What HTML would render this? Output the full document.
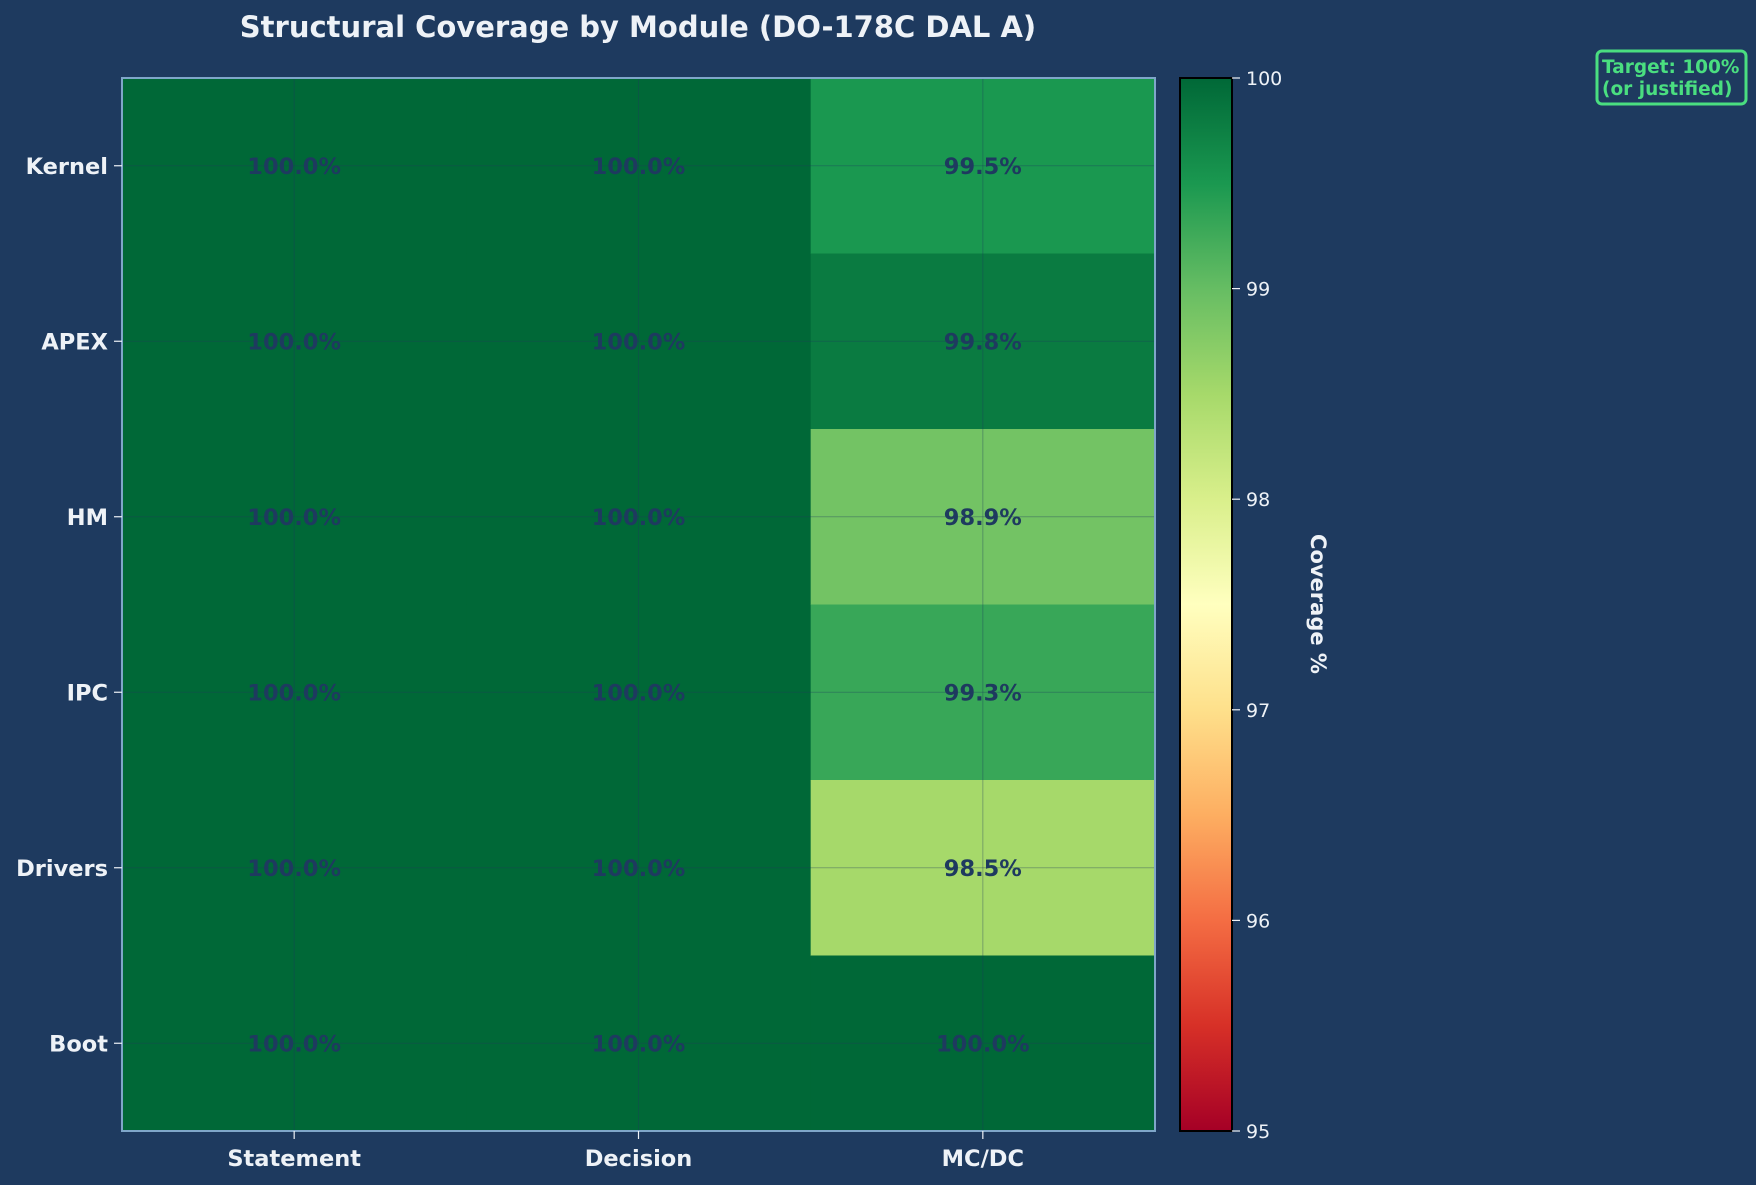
<!DOCTYPE html>
<html><head><meta charset="utf-8"><style>
html,body{margin:0;padding:0;background:#1e3a5f;}
svg{display:block;font-family:"DejaVu Sans","Liberation Sans",sans-serif;}
</style></head><body>
<svg id="chart" width="1756" height="1185" viewBox="0 0 1756 1185">
<defs>
<linearGradient id="cbgrad" x1="0" y1="1" x2="0" y2="0">
<stop offset="0" stop-color="#a50026"/><stop offset="0.1" stop-color="#d73027"/><stop offset="0.2" stop-color="#f46d43"/><stop offset="0.3" stop-color="#fdae61"/><stop offset="0.4" stop-color="#fee08b"/><stop offset="0.5" stop-color="#ffffbf"/><stop offset="0.6" stop-color="#d9ef8b"/><stop offset="0.7" stop-color="#a6d96a"/><stop offset="0.8" stop-color="#66bd63"/><stop offset="0.9" stop-color="#1a9850"/><stop offset="1" stop-color="#006837"/>
</linearGradient>
</defs>
<rect width="1756" height="1185" fill="#1e3a5f"/>
<text x="638" y="37" text-anchor="middle" font-size="29" font-weight="bold" fill="#eef2f7">Structural Coverage by Module (DO-178C DAL A)</text>
<g id="cells"></g>
<g id="grid"></g>
<g id="labels"></g>
<rect x="122" y="78" width="1033" height="1053" fill="none" stroke="#7fa6c9" stroke-width="2"/>
<g id="axes"></g>
<rect x="1180" y="78" width="52" height="1053" fill="url(#cbgrad)" stroke="#000" stroke-width="2"/>
<g id="cbticks"></g>
<text transform="translate(1311,604) rotate(90)" text-anchor="middle" font-size="21" font-weight="bold" fill="#eef2f7">Coverage %</text>
<g>
<rect x="1597" y="51" width="149" height="53" rx="5" fill="#1e3a5f" stroke="#4ade80" stroke-width="3"/>
<text x="1602" y="73" font-size="18.5" font-weight="bold" fill="#4ade80">Target: 100%</text>
<text x="1602" y="95" font-size="18.5" font-weight="bold" fill="#4ade80">(or justified)</text>
</g>
</svg>
<script>
const modules = ["Kernel","APEX","HM","IPC","Drivers","Boot"];
const metrics = ["Statement","Decision","MC/DC"];
const statementCov = [100,100,100,100,100,100];
const decisionCov = [100,100,100,100,100,100];
const mcdcCov = [99.5,99.8,98.9,99.3,98.5,100];
const cbTicks = [95,96,97,98,99,100];
const vmin = 95, vmax = 100;

const NS = "http://www.w3.org/2000/svg";
const L = 122, T = 78, W = 1033, H = 1053;
const colW = W / metrics.length, rowH = H / modules.length;
const xc = i => L + colW * (i + 0.5);
const yc = j => T + rowH * (j + 0.5);
const cbY = v => T + H - (v - vmin) / (vmax - vmin) * H;
const stops = ["#a50026","#d73027","#f46d43","#fdae61","#fee08b","#ffffbf","#d9ef8b","#a6d96a","#66bd63","#1a9850","#006837"];
function hex(h){return [1,3,5].map(i=>parseInt(h.substr(i,2),16));}
function cmap(v){
  let t = Math.max(0, Math.min(1, (v - vmin) / (vmax - vmin))) * 10;
  let i = Math.min(9, Math.floor(t)), f = t - i;
  const a = hex(stops[i]), b = hex(stops[i+1]);
  return "rgb(" + a.map((c,k)=>Math.round(c + (b[k]-c)*f)).join(",") + ")";
}
function mk(tag, attrs, parent){
  const e = document.createElementNS(NS, tag);
  for (const k in attrs) e.setAttribute(k, attrs[k]);
  parent.appendChild(e); return e;
}
const series = [statementCov, decisionCov, mcdcCov];
const cells = document.getElementById("cells");
const labels = document.getElementById("labels");
series.forEach((vals, i) => {
  vals.forEach((v, j) => {
    const r = mk("rect", {x: L + colW*i, y: T + rowH*j, width: colW + 0.5, height: rowH + 0.5, fill: cmap(v)}, cells);
    
    
    const t = mk("text", {x: xc(i), y: yc(j) + 8, "text-anchor": "middle", "font-size": 22.5, "font-weight": "bold", fill: "#1e3a5f"}, labels);
    t.textContent = v.toFixed(1) + "%";
    
    
  });
});
const grid = document.getElementById("grid");
metrics.forEach((m, i) => {
  const l = mk("line", {x1: xc(i), x2: xc(i), y1: T, y2: T + H, stroke: "rgba(30,58,95,0.35)", "stroke-width": 1}, grid);
  
  
});
modules.forEach((m, j) => {
  const l = mk("line", {x1: L, x2: L + W, y1: yc(j), y2: yc(j), stroke: "rgba(30,58,95,0.35)", "stroke-width": 1}, grid);
  
  
});
const axes = document.getElementById("axes");
modules.forEach((m, j) => {
  mk("line", {x1: L - 8, x2: L, y1: yc(j), y2: yc(j), stroke: "#eef2f7", "stroke-width": 1.2}, axes);
  const t = mk("text", {x: L - 14, y: yc(j) + 8, "text-anchor": "end", "font-size": 22.5, "font-weight": "bold", fill: "#eef2f7"}, axes);
  t.textContent = m;
  
  
});
metrics.forEach((m, i) => {
  mk("line", {x1: xc(i), x2: xc(i), y1: T + H, y2: T + H + 8, stroke: "#eef2f7", "stroke-width": 1.2}, axes);
  const t = mk("text", {x: xc(i), y: T + H + 35, "text-anchor": "middle", "font-size": 22.5, "font-weight": "bold", fill: "#eef2f7"}, axes);
  t.textContent = m;
  
  
});
const cbt = document.getElementById("cbticks");
cbTicks.forEach(v => {
  mk("line", {x1: 1232, x2: 1240, y1: cbY(v), y2: cbY(v), stroke: "#eef2f7", "stroke-width": 1.2}, cbt);
  const t = mk("text", {x: 1246, y: cbY(v) + 7, "font-size": 19, fill: "#eef2f7"}, cbt);
  t.textContent = v;
  
  
});
</script>
</body></html>
